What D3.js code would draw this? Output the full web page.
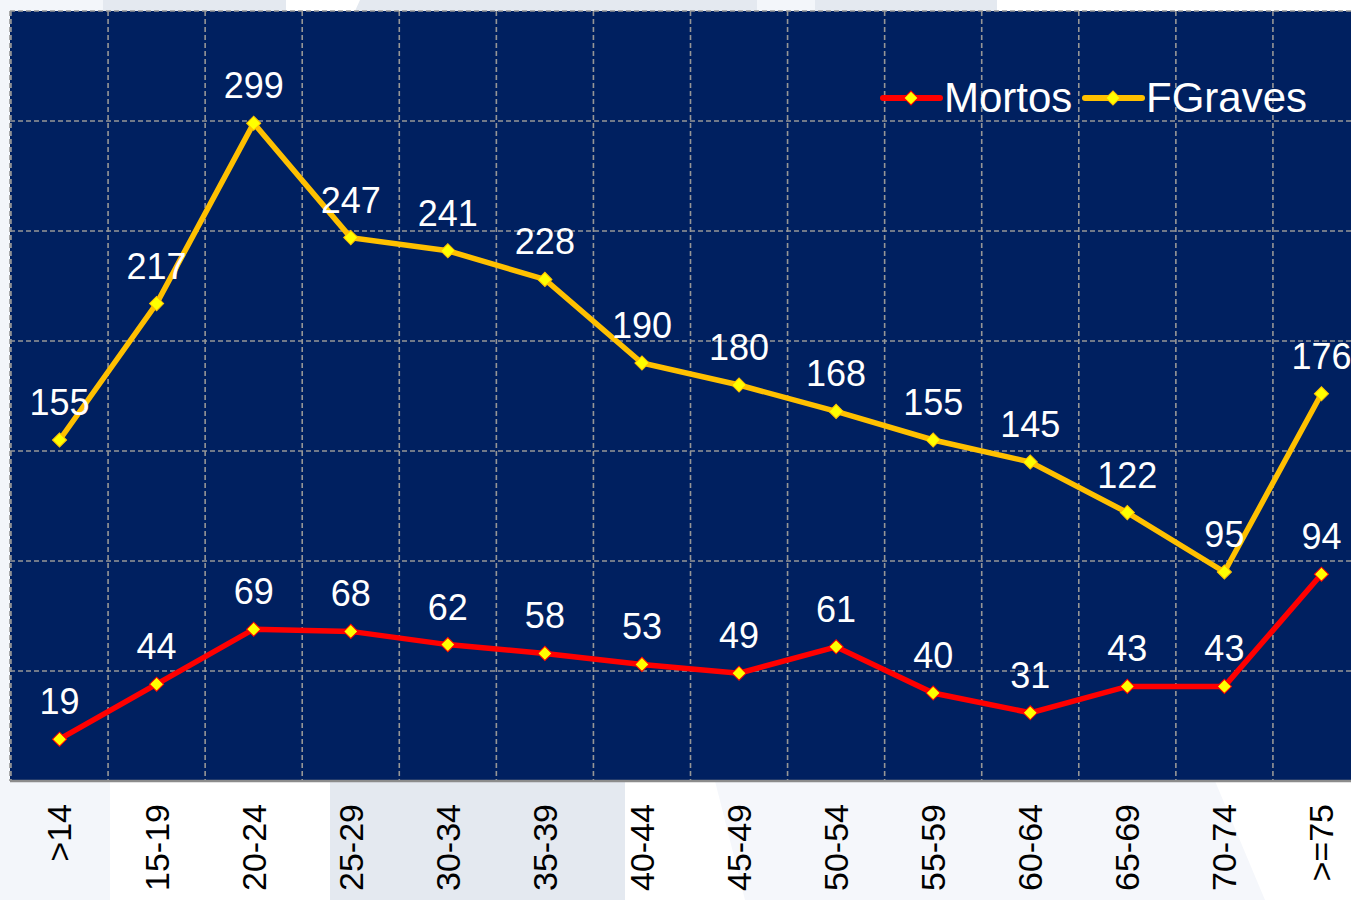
<!DOCTYPE html>
<html lang="pt">
<head>
<meta charset="UTF-8">
<title>Mortos e Feridos Graves por idade</title>
<script src="https://cdnjs.cloudflare.com/ajax/libs/d3/7.8.5/d3.min.js"></script>
<style>
    body { margin: 0; padding: 0; background: #fff; }
    svg { display: block; font-family: "Liberation Sans", Arial, sans-serif; }
</style>
</head>
<body>
<div id="chart"></div>
<script>
    const width = 1351;
    const height = 900;

    // age groups
    const categories = [">14", "15-19", "20-24", "25-29", "30-34", "35-39", "40-44",
        "45-49", "50-54", "55-59", "60-64", "65-69", "70-74", ">=75"];
    const mortos = [19, 44, 69, 68, 62, 58, 53, 49, 61, 40, 31, 43, 43, 94];
    const fgraves = [155, 217, 299, 247, 241, 228, 190, 180, 168, 155, 145, 122, 95, 176];
    const yTicks = [0, 50, 100, 150, 200, 250, 300, 350];

    const series = [
        { name: "Mortos", values: mortos, color: "#ff0000" },
        { name: "FGraves", values: fgraves, color: "#ffc000" }
    ];

    const plot = { left: 10, top: 11, bottom: 781 };

    const svg = d3.select("#chart").append("svg")
        .attr("width", width)
        .attr("height", height);

    // faint watermark shapes behind the chart
    const bg = svg.append("g");
    const shapes = [
        { pts: [[0, 0], [103, 0], [103, 11], [0, 11]], fill: "#f3f6fa" },
        { pts: [[103, 0], [286, 0], [286, 11], [103, 11]], fill: "#e4e9f0" },
        { pts: [[360, 0], [757, 0], [757, 11], [355, 11]], fill: "#e4e9f0" },
        { pts: [[757, 0], [815, 0], [815, 11], [757, 11]], fill: "#f3f6fa" },
        { pts: [[815, 0], [997, 0], [997, 11], [815, 11]], fill: "#e4e9f0" },
        { pts: [[0, 0], [10, 0], [10, 900], [0, 900]], fill: "#f3f6fa" },
        { pts: [[0, 781], [110, 781], [110, 900], [0, 900]], fill: "#f3f6fa" },
        { pts: [[330, 781], [625, 781], [625, 900], [330, 900]], fill: "#e4e9f0" },
        { pts: [[715, 781], [1215, 781], [1265, 900], [745, 900]], fill: "#f5f7fb" }
    ];
    bg.selectAll("polygon").data(shapes).enter().append("polygon")
        .attr("points", d => d.pts.map(p => p.join(",")).join(" "))
        .attr("fill", d => d.fill);

    const x = d3.scaleBand()
        .domain(categories)
        .range([11, 1370]);

    const y = d3.scaleLinear()
        .domain([0, 350])
        .range([plot.bottom, plot.top]);

    const cx = c => x(c) + x.bandwidth() / 2;

    // plot area
    svg.append("rect")
        .attr("x", plot.left)
        .attr("y", plot.top)
        .attr("width", width - plot.left)
        .attr("height", plot.bottom - plot.top)
        .attr("fill", "#002060");

    const grid = svg.append("g")
        .attr("stroke", "#969696")
        .attr("stroke-width", 1.6)
        .attr("stroke-dasharray", "5,3");

    grid.selectAll("line.h")
        .data(yTicks.filter(t => t > 0))
        .enter().append("line")
        .attr("class", "h")
        .attr("x1", plot.left)
        .attr("x2", width)
        .attr("y1", d => y(d))
        .attr("y2", d => y(d));

    // vertical lines at category boundaries
    grid.selectAll("line.v")
        .data(categories)
        .enter().append("line")
        .attr("class", "v")
        .attr("x1", d => x(d))
        .attr("x2", d => x(d))
        .attr("y1", plot.top)
        .attr("y2", plot.bottom);

    grid.append("line")
        .attr("x1", plot.left).attr("x2", plot.left)
        .attr("y1", plot.top).attr("y2", plot.bottom);

    // x axis
    const xAxis = svg.append("g")
        .attr("transform", `translate(0,${plot.bottom})`)
        .call(d3.axisBottom(x).tickSize(0).tickPadding(0));

    xAxis.select(".domain")
        .attr("d", `M${plot.left},0H${width}`)
        .attr("stroke", "#8c8c8c")
        .attr("stroke-width", 2.5);

    xAxis.selectAll(".tick text")
        .attr("transform", "rotate(-90)")
        .attr("x", -23)
        .attr("y", 0)
        .attr("dy", "0.35em")
        .attr("text-anchor", "end")
        .attr("font-size", 34)
        .attr("font-family", "Liberation Sans, Arial, sans-serif")
        .attr("fill", "#000");

    // lines, markers, labels
    const line = d3.line()
        .x((d, i) => cx(categories[i]))
        .y(d => y(d));

    // square turned 45 degrees, like the spreadsheet diamond marker
    const diamond = d3.symbol().type(d3.symbolSquare).size(100);

    series.forEach(s => {
        const g = svg.append("g");

        g.append("path")
            .attr("d", line(s.values))
            .attr("fill", "none")
            .attr("stroke", s.color)
            .attr("stroke-width", 5.5)
            .attr("stroke-linejoin", "miter");

        g.selectAll("path.pt")
            .data(s.values)
            .enter().append("path")
            .attr("class", "pt")
            .attr("d", diamond)
            .attr("transform", (d, i) => `translate(${cx(categories[i])},${y(d)}) rotate(45)`)
            .attr("fill", "#ffff00")
            .attr("stroke", s.color)
            .attr("stroke-width", 1);

        g.selectAll("text")
            .data(s.values)
            .enter().append("text")
            .attr("x", (d, i) => cx(categories[i]))
            .attr("y", d => y(d) - 25)
            .attr("text-anchor", "middle")
            .attr("font-size", 36)
            .attr("fill", "#fff")
            .text(d => d);
    });

    // legend
    const legend = svg.append("g")
        .attr("transform", "translate(883,98)");

    const legendItems = legend.selectAll("g")
        .data(series)
        .enter().append("g")
        .attr("transform", (d, i) => `translate(${i * 202},0)`);

    legendItems.append("line")
        .attr("x1", 0).attr("x2", 57)
        .attr("y1", 0).attr("y2", 0)
        .attr("stroke", d => d.color)
        .attr("stroke-width", 6)
        .attr("stroke-linecap", "round");

    legendItems.append("path")
        .attr("d", diamond)
        .attr("transform", "translate(28,0) rotate(45)")
        .attr("fill", "#ffff00")
        .attr("stroke", d => d.color)
        .attr("stroke-width", 1);

    legendItems.append("text")
        .attr("x", 61)
        .attr("y", 14)
        .attr("font-size", 42)
        .attr("fill", "#fff")
        .text(d => d.name);
</script>
</body>
</html>
